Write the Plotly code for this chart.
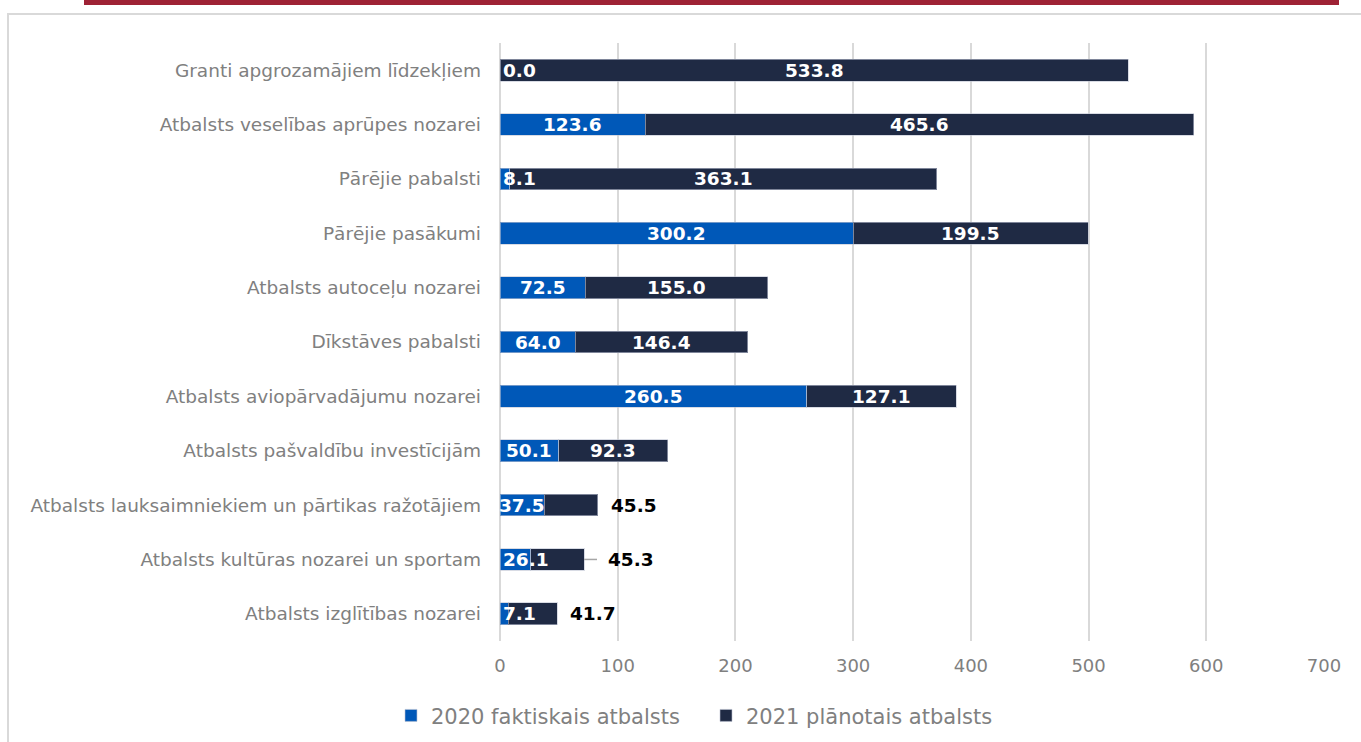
import plotly.graph_objects as go

categories = [
    "Granti apgrozamājiem līdzekļiem",
    "Atbalsts veselības aprūpes nozarei",
    "Pārējie pabalsti",
    "Pārējie pasākumi",
    "Atbalsts autoceļu nozarei",
    "Dīkstāves pabalsti",
    "Atbalsts aviopārvadājumu nozarei",
    "Atbalsts pašvaldību investīcijām",
    "Atbalsts lauksaimniekiem un pārtikas ražotājiem",
    "Atbalsts kultūras nozarei un sportam",
    "Atbalsts izglītības nozarei",
]
v2020 = [0.0, 123.6, 8.1, 300.2, 72.5, 64.0, 260.5, 50.1, 37.5, 26.1, 7.1]
v2021 = [533.8, 465.6, 363.1, 199.5, 155.0, 146.4, 127.1, 92.3, 45.5, 45.3, 41.7]
series_names = ["2020 faktiskais atbalsts", "2021 plānotais atbalsts"]
x_ticks = [0, 100, 200, 300, 400, 500, 600, 700]

BLUE = "#0058B8"
NAVY = "#1F2A44"
GREY = "#808080"
FONT = "DejaVu Sans"

fig = go.Figure()
fig.add_trace(go.Bar(
    y=categories, x=v2020, orientation="h", name=series_names[0],
    marker=dict(color=BLUE, line=dict(color="rgba(190,195,210,0.6)", width=1)),
))
fig.add_trace(go.Bar(
    y=categories, x=v2021, orientation="h", name=series_names[1],
    marker=dict(color=NAVY, line=dict(color="rgba(190,195,210,0.6)", width=1)),
))

annotations = []
shapes = []
label_font_w = dict(family=FONT, size=18.5, color="white", weight="bold")
label_font_b = dict(family=FONT, size=18.5, color="black", weight="bold")
for cat, a, b in zip(categories, v2020, v2021):
    # 2020 labels
    if a < 30:
        annotations.append(dict(x=0, y=cat, xref="x", yref="y", text=f"{a:.1f}",
                                showarrow=False, xanchor="left", xshift=1,
                                font=label_font_w))
    else:
        annotations.append(dict(x=a / 2, y=cat, xref="x", yref="y", text=f"{a:.1f}",
                                showarrow=False, xanchor="center", font=label_font_w))
    # 2021 labels
    if b < 50:
        shift = 11
        if cat == "Atbalsts kultūras nozarei un sportam":
            shift = 22
            shapes.append(dict(type="line", xref="x", yref="y", x0=a + b, x1=a + b + 11,
                               y0=cat, y1=cat, line=dict(color="#A6A6A6", width=1.5)))
        annotations.append(dict(x=a + b, y=cat, xref="x", yref="y", text=f"{b:.1f}",
                                showarrow=False, xanchor="left", xshift=shift,
                                font=label_font_b))
    else:
        annotations.append(dict(x=a + b / 2, y=cat, xref="x", yref="y", text=f"{b:.1f}",
                                showarrow=False, xanchor="center", font=label_font_w))

# outer frame and top accent bar
shapes.append(dict(type="rect", xref="paper", yref="paper",
                   x0=(8 - 500) / 824, x1=1.2, y0=-0.5, y1=(641 - 14) / 598,
                   line=dict(color="#D9D9D9", width=2), layer="below"))
shapes.append(dict(type="rect", xref="paper", yref="paper",
                   x0=(84 - 500) / 824, x1=(1339 - 500) / 824,
                   y0=(641 - 5) / 598, y1=(641 + 2) / 598,
                   line=dict(width=0), fillcolor="#9E2235"))

fig.update_layout(
    barmode="stack",
    bargap=0.6,
    width=1361, height=742,
    margin=dict(l=500, r=37, t=43, b=101, autoexpand=False),
    paper_bgcolor="white", plot_bgcolor="white",
    font=dict(family=FONT, color=GREY),
    showlegend=True,
    legend=dict(orientation="h", x=(391 - 500) / 824, xanchor="left", y=-0.125,
                yanchor="middle", entrywidth=270, entrywidthmode="pixels",
                font=dict(family=FONT, size=21, color=GREY), traceorder="normal"),
    xaxis=dict(range=[0, 700], tickvals=x_ticks, showgrid=True, gridcolor="#D9D9D9",
               gridwidth=2, zeroline=True, zerolinecolor="#D9D9D9", zerolinewidth=2,
               tickfont=dict(family=FONT, size=18, color=GREY), ticks="",
               ticklabelstandoff=12, showline=False, automargin=False),
    yaxis=dict(autorange="reversed", tickfont=dict(family=FONT, size=18.5, color=GREY),
               ticks="", ticklabelstandoff=18, showline=False, showgrid=False,
               automargin=False),
    annotations=annotations,
    shapes=shapes,
)

fig.write_html("out.html", config={"displayModeBar": False},
               post_script="document.body.style.margin='0';document.body.style.overflow='hidden';")
